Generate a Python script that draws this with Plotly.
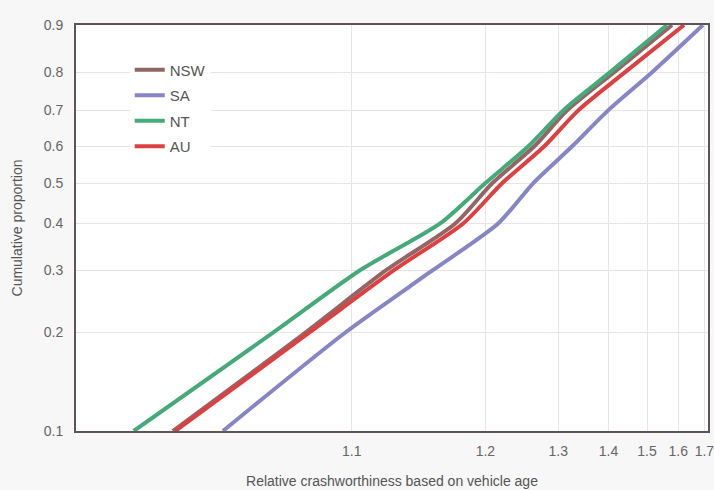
import numpy as np
import plotly.graph_objects as go

# ---- data ----
proportion = [0.1, 0.2, 0.3, 0.4, 0.5, 0.6, 0.7, 0.8, 0.9]
nsw = [1.0470, 1.0805, 1.1183, 1.1702, 1.2079, 1.2622, 1.3158, 1.4134, 1.579]
sa = [1.0566, 1.0971, 1.1505, 1.2148, 1.2608, 1.3248, 1.3991, 1.5151, 1.694]
nt = [1.0413, 1.0698, 1.1039, 1.1571, 1.2000, 1.2536, 1.3088, 1.4037, 1.562]
au = [1.0474, 1.0820, 1.1231, 1.1776, 1.2195, 1.2774, 1.3363, 1.4402, 1.621]

x_ticks = [1.1, 1.2, 1.3, 1.4, 1.5, 1.6, 1.7]
y_ticks = [0.1, 0.2, 0.3, 0.4, 0.5, 0.6, 0.7, 0.8, 0.9]
x_limits = [1.035, 1.715]
y_limits = [0.1, 0.9]

series = [("NSW", nsw, "#936666"), ("SA", sa, "#8686c6"),
          ("NT", nt, "#45aa7a"), ("AU", au, "#dc4040")]

# probability-paper scales (3-parameter Weibull style)
LOC = 1.02
def fx(v):
    return np.log(np.asarray(v, dtype=float) - LOC)
def fy(p):
    p = np.asarray(p, dtype=float)
    return np.log(-np.log(1.0 - p))

fig = go.Figure()
for name, vals, col in series:
    fig.add_trace(go.Scatter(x=fx(vals), y=fy(proportion), mode="lines", name=name,
                             legendgroup=name,
                             line=dict(color=col, width=4, shape="spline", smoothing=0.7)))

font_family = "Liberation Sans, Arial, sans-serif"
fig.update_layout(
    width=714, height=490,
    margin=dict(l=76, r=6, t=25, b=59, autoexpand=False),
    paper_bgcolor="#f7f7f7", plot_bgcolor="white",
    font=dict(family=font_family, size=14, color="#666666"),
    showlegend=True,
    legend=dict(x=0.085, y=0.93, xanchor="left", yanchor="top",
                bgcolor="white", borderwidth=0, traceorder="grouped",
                font=dict(size=15, color="#555555"),
                itemwidth=30, tracegroupgap=3),
)
fig.update_xaxes(
    range=list(fx(x_limits)), tickmode="array", tickvals=list(fx(x_ticks)),
    ticktext=[f"{t:g}" for t in x_ticks],
    showgrid=True, gridcolor="#ebe2e2", gridwidth=1, zeroline=False,
    showline=True, linecolor="#5e5454", linewidth=2, mirror=True,
    ticks="", ticklabelstandoff=6, automargin=False, ticklabeloverflow="allow",
    tickfont=dict(size=14, color="#666666"),
    title=dict(text="Relative crashworthiness based on vehicle age", standoff=18,
               font=dict(size=14, color="#555555")),
)
fig.update_yaxes(
    range=list(fy(y_limits)), tickmode="array", tickvals=list(fy(y_ticks)),
    ticktext=[f"{t:g}" for t in y_ticks],
    showgrid=True, gridcolor="#ebe2e2", gridwidth=1, zeroline=False,
    showline=True, linecolor="#5e5454", linewidth=2, mirror=True,
    ticks="", ticklabelstandoff=8, automargin=False, ticklabeloverflow="allow",
    tickfont=dict(size=14, color="#666666"),
    title=dict(text="Cumulative proportion", standoff=18,
               font=dict(size=14, color="#555555")),
)

fig.write_html("out.html", config={"displayModeBar": False})

# remove the browser's default body margin so the figure fills the window
with open("out.html", "r", encoding="utf-8") as fh:
    html = fh.read()
html = html.replace("<body>", '<body style="margin:0;padding:0;overflow:hidden;">', 1)
with open("out.html", "w", encoding="utf-8") as fh:
    fh.write(html)
